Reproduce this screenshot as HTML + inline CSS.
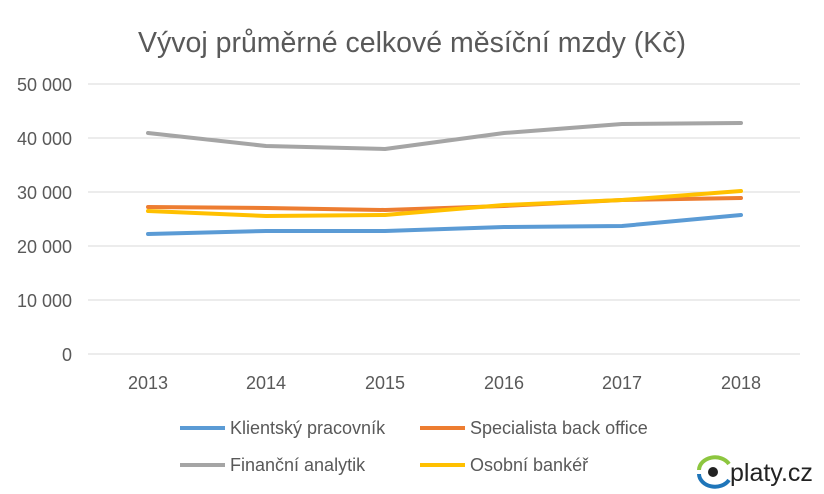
<!DOCTYPE html>
<html><head><meta charset="utf-8"><style>
body{margin:0;background:#fff;}
svg{display:block;font-family:"Liberation Sans",Arial,sans-serif;}
</style></head><body>
<svg width="824" height="494" viewBox="0 0 824 494">
<text x="412" y="52" text-anchor="middle" font-size="28.5" fill="#595959">Vývoj průměrné celkové měsíční mzdy (Kč)</text>
<g stroke="#d9d9d9" stroke-width="1">
<line x1="88" y1="84" x2="800" y2="84"/><line x1="88" y1="138" x2="800" y2="138"/>
<line x1="88" y1="192" x2="800" y2="192"/><line x1="88" y1="246" x2="800" y2="246"/>
<line x1="88" y1="300" x2="800" y2="300"/><line x1="88" y1="354" x2="800" y2="354"/>
</g>
<g font-size="18" fill="#595959" text-anchor="end">
<text x="72" y="91">50 000</text><text x="72" y="145">40 000</text><text x="72" y="199">30 000</text>
<text x="72" y="253">20 000</text><text x="72" y="307">10 000</text><text x="72" y="361">0</text>
</g>
<g font-size="18" fill="#595959" text-anchor="middle">
<text x="148" y="389">2013</text><text x="266" y="389">2014</text><text x="385" y="389">2015</text>
<text x="504" y="389">2016</text><text x="622" y="389">2017</text><text x="741" y="389">2018</text>
</g>
<g fill="none" stroke-width="4" stroke-linejoin="round" stroke-linecap="round">
<polyline stroke="#a5a5a5" points="148,133 266,146 385,149 504,133 622,124 741,123"/>
<polyline stroke="#ed7d31" points="148,207 266,208 385,210 504,206 622,200 741,198"/>
<polyline stroke="#ffc000" points="148,211 266,216 385,215 504,205 622,200 741,191"/>
<polyline stroke="#5b9bd5" points="148,234 266,231 385,231 504,227 622,226 741,215"/>
</g>
<g stroke-width="4">
<line x1="180" y1="428" x2="225" y2="428" stroke="#5b9bd5"/>
<line x1="420" y1="428" x2="465" y2="428" stroke="#ed7d31"/>
<line x1="180" y1="465" x2="225" y2="465" stroke="#a5a5a5"/>
<line x1="420" y1="465" x2="465" y2="465" stroke="#ffc000"/>
</g>
<g font-size="18" fill="#595959">
<text x="230" y="434">Klientský pracovník</text><text x="470" y="434">Specialista back office</text>
<text x="230" y="471">Finanční analytik</text><text x="470" y="471">Osobní bankéř</text>
</g>
<path d="M699,470 A16,13 0 0 1 729,464" fill="none" stroke="#8dc63f" stroke-width="4"/>
<path d="M699,474 A16,13 0 0 0 729,480" fill="none" stroke="#1f75b9" stroke-width="4"/>
<circle cx="713" cy="472" r="5" fill="#222"/>
<text x="730" y="481" font-size="25" fill="#222">platy.cz</text>
</svg>
</body></html>
